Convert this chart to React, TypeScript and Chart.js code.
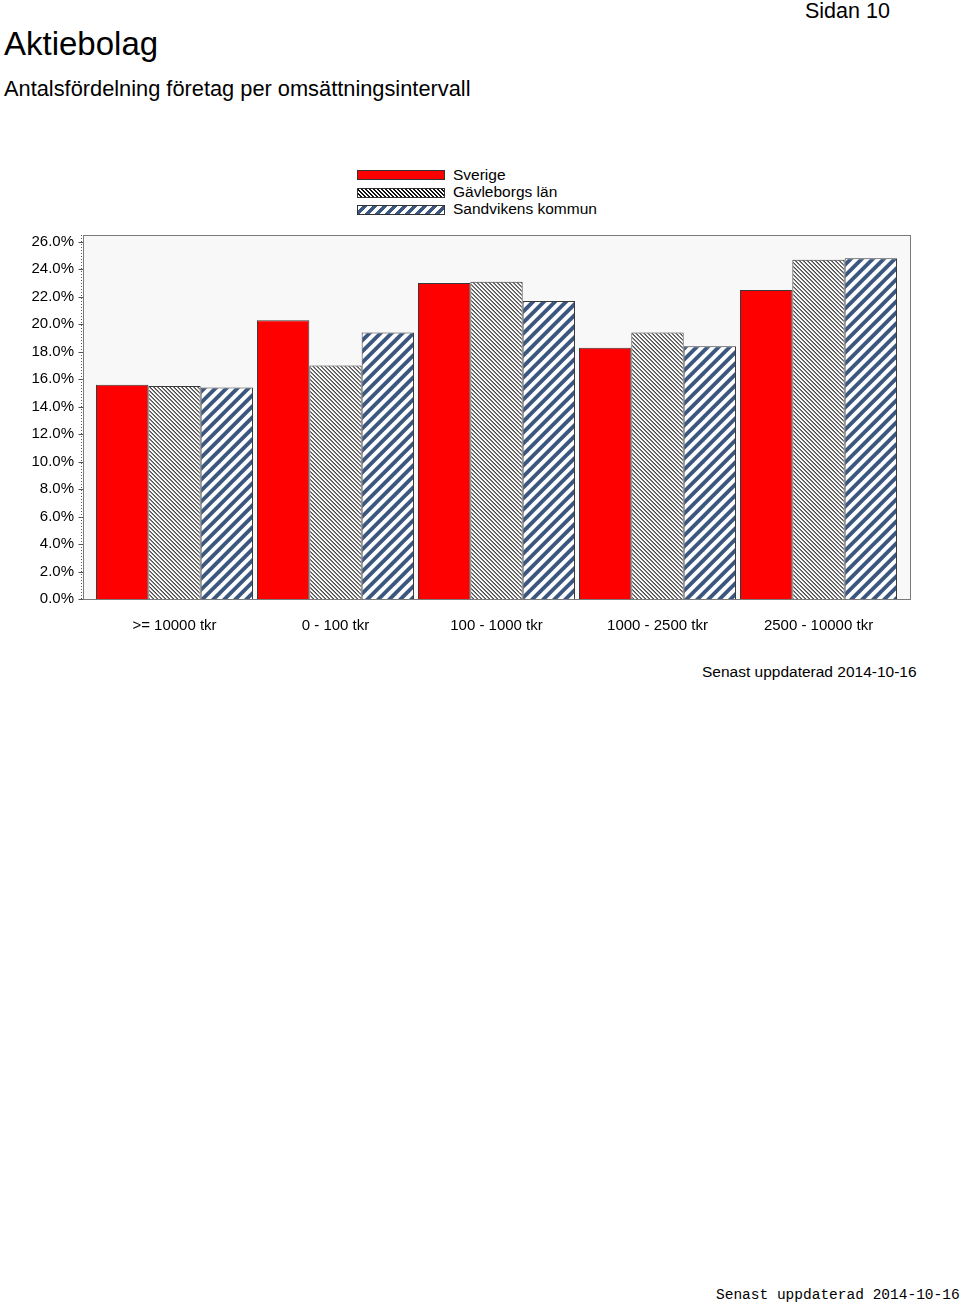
import React, { useEffect, useRef } from "react";
import { Chart, registerables } from "chart.js";

Chart.register(...registerables);

const categories = [">= 10000 tkr", "0 - 100 tkr", "100 - 1000 tkr", "1000 - 2500 tkr", "2500 - 10000 tkr"];
const seriesNames = ["Sverige", "Gävleborgs län", "Sandvikens kommun"];
const sverige = [15.6, 20.3, 23.0, 18.3, 22.5];
const gavleborg = [15.5, 17.0, 23.1, 19.4, 24.7];
const sandviken = [15.4, 19.4, 21.7, 18.4, 24.8];
const yMax = 26.5;
const yTicks = [0, 2, 4, 6, 8, 10, 12, 14, 16, 18, 20, 22, 24, 26];

const FONT = "'Liberation Sans', Arial, sans-serif";

// Diagonal stripe pattern built from filled polygons on a tile that is a whole number of periods
function makeStripes(dir: "back" | "fwd", period: number, bandW: number, color: string): CanvasPattern | string {
  const n = dir === "back" ? 10 : 4;
  const T = period * n;
  const c = document.createElement("canvas");
  c.width = T;
  c.height = T;
  const ctx = c.getContext("2d");
  if (!ctx) return "#fff";
  ctx.fillStyle = "#ffffff";
  ctx.fillRect(0, 0, T, T);
  ctx.fillStyle = color;
  for (let k = -n - 2; k <= n + 2; k++) {
    const o = k * period;
    ctx.beginPath();
    if (dir === "fwd") {
      // "/" : bottom at x=o, top at x=o+T
      ctx.moveTo(o, T);
      ctx.lineTo(o + bandW, T);
      ctx.lineTo(o + bandW + T, 0);
      ctx.lineTo(o + T, 0);
    } else {
      // "\" : top at x=o, bottom at x=o+T
      ctx.moveTo(o, 0);
      ctx.lineTo(o + bandW, 0);
      ctx.lineTo(o + bandW + T, T);
      ctx.lineTo(o + T, T);
    }
    ctx.closePath();
    ctx.fill();
  }
  return ctx.createPattern(c, "repeat") || "#fff";
}

const frameExtra = 11;

const framePlugin = {
  id: "frame",
  beforeDatasetsDraw(chart: any) {
    const { ctx, chartArea } = chart;
    ctx.save();
    ctx.fillStyle = "#f8f8f8";
    ctx.fillRect(chartArea.left - frameExtra, chartArea.top, chartArea.right - chartArea.left + 2 * frameExtra, chartArea.bottom - chartArea.top);
    ctx.restore();
  },
  afterDatasetsDraw(chart: any) {
    const { ctx, chartArea, scales } = chart;
    const l = chartArea.left - frameExtra;
    const r = chartArea.right + frameExtra;
    ctx.save();
    ctx.strokeStyle = "#7a7a7a";
    ctx.lineWidth = 1;
    ctx.strokeRect(Math.round(l) + 0.5, Math.round(chartArea.top) + 0.5, Math.round(r - l), Math.round(chartArea.bottom - chartArea.top));
    const ax = Math.round(l) - 1.5;
    ctx.strokeStyle = "#555";
    ctx.setLineDash([1, 2]);
    ctx.beginPath();
    ctx.moveTo(ax, chartArea.top);
    ctx.lineTo(ax, chartArea.bottom);
    ctx.stroke();
    ctx.setLineDash([]);
    const ys = scales.y;
    ys.ticks.forEach((t: any) => {
      const py = Math.round(ys.getPixelForValue(t.value)) + 0.5;
      ctx.beginPath();
      ctx.moveTo(ax - 3, py);
      ctx.lineTo(Math.round(l), py);
      ctx.stroke();
    });
    ctx.restore();
  },
};

function ChartView() {
  const ref = useRef<HTMLCanvasElement | null>(null);
  useEffect(() => {
    if (!ref.current) return;
    const border = "#3a3a3a";
    const chart = new Chart(ref.current, {
      type: "bar",
      data: {
        labels: categories,
        datasets: [
          { label: seriesNames[0], data: sverige, backgroundColor: "#ff0000", borderColor: border, borderWidth: 1 },
          { label: seriesNames[1], data: gavleborg, backgroundColor: makeStripes("back", 4, 1.3, "#111111") as any, borderColor: border, borderWidth: 1 },
          { label: seriesNames[2], data: sandviken, backgroundColor: makeStripes("fwd", 11, 5.4, "#3b5780") as any, borderColor: border, borderWidth: 1 },
        ],
      },
      options: {
        responsive: false,
        animation: false,
        layout: { padding: { left: 0, right: 61, top: 85, bottom: 0 } },
        datasets: { bar: { barPercentage: 1, categoryPercentage: 157 / 161 } } as any,
        plugins: { legend: { display: false }, tooltip: { enabled: false } },
        scales: {
          x: {
            grid: { display: false, drawTicks: false },
            border: { display: false },
            ticks: { color: "#000", font: { family: FONT, size: 15 }, padding: 18, maxRotation: 0, autoSkip: false },
            afterFit: (s: any) => {
              s.height = 51;
            },
          },
          y: {
            min: 0,
            max: yMax,
            grid: { display: false, drawTicks: false },
            border: { display: false },
            ticks: {
              color: "#000",
              font: { family: FONT, size: 15 },
              padding: 20,
              autoSkip: false,
              callback: (v: any) => Number(v).toFixed(1) + "%",
            },
            afterBuildTicks: (s: any) => {
              s.ticks = yTicks.map((v) => ({ value: v }));
            },
            afterFit: (s: any) => {
              s.width = 94;
            },
          },
        },
      },
      plugins: [framePlugin],
    });
    return () => chart.destroy();
  }, []);
  return <canvas ref={ref} width={960} height={500} style={{ position: "absolute", left: 0, top: 150 }} />;
}

const abs = (left: number, top: number, size: number, extra: React.CSSProperties = {}): React.CSSProperties => ({
  position: "absolute",
  left,
  top,
  fontSize: size,
  lineHeight: 1,
  fontFamily: FONT,
  color: "#000",
  whiteSpace: "nowrap",
  ...extra,
});

const swatch = (top: number, bg: string): React.CSSProperties => ({
  position: "absolute",
  left: 357,
  top,
  width: 86,
  height: 8,
  border: "1px solid #333",
  background: bg,
});

export default function App() {
  return (
    <div style={{ position: "absolute", left: 0, top: 0, width: 960, height: 1306, background: "#fff", overflow: "hidden" }}>
      <div style={abs(4, 27, 33)}>Aktiebolag</div>
      <div style={abs(805, 1, 21.5)}>Sidan 10</div>
      <div style={abs(4, 78, 21.8)}>Antalsfördelning företag per omsättningsintervall</div>

      <div style={swatch(170, "#ff0000")} />
      <div style={swatch(188, "repeating-linear-gradient(45deg, #ffffff 0px, #ffffff 1.8px, #111111 1.8px, #111111 2.83px)")} />
      <div style={swatch(205, "repeating-linear-gradient(-45deg, #ffffff 0px, #ffffff 3.4px, #3b5780 3.4px, #3b5780 7.07px)")} />
      <div style={abs(453, 167, 15.5)}>{seriesNames[0]}</div>
      <div style={abs(453, 184, 15.5)}>{seriesNames[1]}</div>
      <div style={abs(453, 201, 15.5)}>{seriesNames[2]}</div>

      <ChartView />

      <div style={abs(702, 664, 15.5)}>Senast uppdaterad 2014-10-16</div>
      <div style={abs(716, 1288, 14.5, { fontFamily: "'Liberation Mono', 'Courier New', monospace" })}>Senast uppdaterad 2014-10-16</div>
    </div>
  );
}
